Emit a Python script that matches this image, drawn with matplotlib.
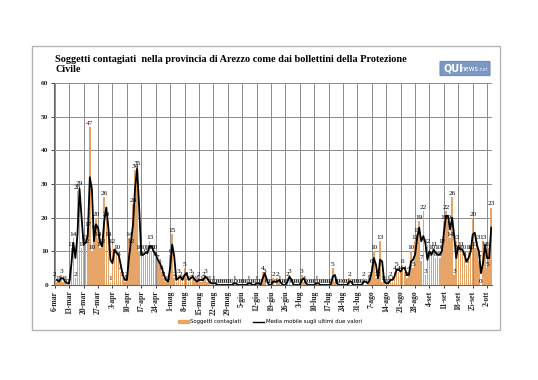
import numpy as np
import pandas as pd
import matplotlib.pyplot as plt
from matplotlib.patches import Rectangle, FancyBboxPatch, Patch
from matplotlib.lines import Line2D

# Soggetti contagiati giornalieri, 6 marzo - 4 ottobre
marzo = [2, 1, 1, 3, 1, 1, 0, 1, 11, 14, 2, 28, 29, 11, 13, 12, 17, 47, 10, 16,
         20, 14, 11, 12, 26, 20]
aprile = [14, 1, 12, 9, 10, 8, 4, 2, 1, 2, 14, 12, 24, 34, 35, 10, 8, 10, 9, 10,
          13, 10, 10, 8, 7, 6, 4, 2, 1, 1]
maggio = [9, 15, 2, 1, 3, 2, 1, 5, 2, 1, 3, 2, 1, 1, 2, 1, 2, 3, 1, 1,
          0, 1, 0, 0, 0, 0, 0, 0, 0, 0, 0]
giugno = [1, 0, 0, 0, 0, 0, 0, 1, 0, 0, 0, 1, 0, 0, 4, 3, 0, 0, 0, 2,
          0, 2, 1, 0, 0, 0, 2, 3, 0, 0]
luglio = [0, 0, 0, 3, 1, 0, 0, 0, 0, 0, 1, 0, 0, 0, 0, 0, 0, 0, 5, 1,
          0, 0, 0, 0, 0, 0, 2, 0, 0, 0, 0]
agosto = [0, 0, 2, 0, 1, 2, 6, 10, 2, 2, 13, 1, 1, 0, 1, 2, 1, 4, 5, 4,
          4, 6, 4, 2, 4, 10, 5, 13, 15, 19, 7]
settembre = [22, 3, 12, 8, 10, 11, 8, 10, 8, 12, 19, 22, 19, 14, 26, 3, 13, 10, 11, 10,
             8, 6, 10, 10, 20, 11, 13, 7, 0, 13]
ottobre = [11, 5, 11, 23]

tick_labels = ['6-mar', '13-mar', '20-mar', '27-mar', '3-apr', '10-apr', '17-apr',
               '24-apr', '1-mag', '8-mag', '15-mag', '22-mag', '29-mag', '5-giu',
               '12-giu', '19-giu', '26-giu', '3-lug', '10-lug', '17-lug', '24-lug',
               '31-lug', '7-ago', '14-ago', '21-ago', '28-ago', '4-set', '11-set',
               '18-set', '25-set', '2-ott']

values = marzo + aprile + maggio + giugno + luglio + agosto + settembre + ottobre
days = np.arange(len(values))
# media mobile su 2 periodi (come la linea di tendenza di Excel)
media = pd.Series(values).rolling(2).mean()

bar_color = '#E6A468'
serif = 'Liberation Serif'

fig = plt.figure(figsize=(5.38, 3.80), dpi=100)

# cornice del grafico
fig.patches.append(Rectangle((32 / 538, 1 - 330 / 380), (500 - 32) / 538, (330 - 46) / 380,
                             transform=fig.transFigure, fill=False, ec='#b4b4b4', lw=1))

ax = fig.add_axes([0.100, 0.25, 0.815, 0.532])
ax.bar(days, values, width=0.75, color=bar_color, zorder=2)
ax.plot(days, media, color='black', lw=1.3, zorder=3)

for d, v in zip(days, values):
    ax.text(d, v + 0.3, str(v), ha='center', va='bottom', fontsize=5.2,
            family=serif, color='#8b0000' if v == 47 else 'black', zorder=4)

ax.set_xlim(-0.5, len(values) - 0.5)
ax.set_ylim(0, 60)
ax.set_yticks(range(0, 61, 10))
ax.set_xticks(days[::7])
ax.set_xticklabels(tick_labels, rotation=90, fontsize=5.5, fontweight='bold', family=serif)
for lab in ax.get_yticklabels():
    lab.set_fontsize(5.3)
    lab.set_fontweight('bold')
    lab.set_family(serif)
ax.tick_params(length=2, width=0.6, pad=2, colors='#222222')
ax.grid(True, color='#8c8c8c', lw=0.7)
ax.set_axisbelow(True)
for s in ['top', 'right']:
    ax.spines[s].set_visible(False)
ax.spines['left'].set_color('#666666')
ax.spines['bottom'].set_color('#666666')

fig.text(55 / 538, 1 - 55 / 380,
         'Soggetti contagiati  nella provincia di Arezzo come dai bollettini della Protezione\nCivile',
         ha='left', va='top', fontsize=7.4, fontweight='bold', family=serif, linespacing=1.1)

# logo
fig.patches.append(FancyBboxPatch((441 / 538, 1 - 75 / 380), 48 / 538, 13 / 380,
                                  boxstyle='round,pad=0.002', transform=fig.transFigure,
                                  fc='#7b98c6', ec='#5a78a8', lw=0.5))
fig.text(443 / 538, 1 - 68.5 / 380, 'QUI', ha='left', va='center', fontsize=7,
         fontweight='bold', color='white')
fig.text(460 / 538, 1 - 69 / 380, 'news', ha='left', va='center', fontsize=5,
         color='white')
fig.text(478 / 538, 1 - 69.5 / 380, '.net', ha='left', va='center', fontsize=3.5,
         color='#dde6f3')

handles = [Patch(color=bar_color), Line2D([], [], color='black', lw=1)]
fig.legend(handles, ['Soggetti contagiati', 'Media mobile sugli ultimi due valori'],
           loc='center', bbox_to_anchor=(270 / 538, 1 - 322 / 380), ncol=2,
           frameon=False, fontsize=3.9, handlelength=2.0, handleheight=0.6,
           columnspacing=2.2, handletextpad=0.3)

fig.savefig('out.png', dpi=100)
